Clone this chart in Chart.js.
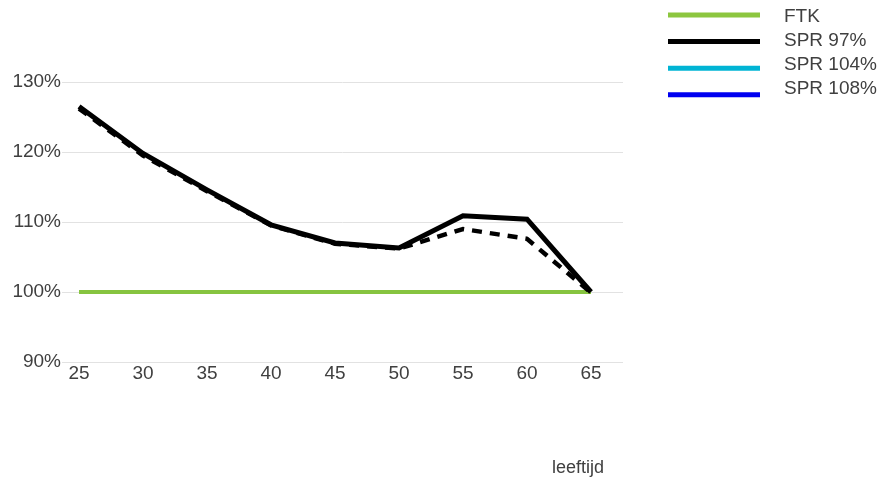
<!DOCTYPE html>
<html><head><meta charset="utf-8">
<script src="https://cdn.jsdelivr.net/npm/chart.js@4/dist/chart.umd.min.js"></script>
<style>html,body{margin:0;padding:0;background:#fff}#wrap{width:886px;height:483px;position:relative}</style>
</head><body><div id="wrap"><canvas id="c" width="886" height="483"></canvas></div>
<script>
const ages = [25, 30, 35, 40, 45, 50, 55, 60, 65];
const ftk = [100, 100, 100, 100, 100, 100, 100, 100, 100];
const spr97 = [126.5, 119.8, 114.6, 109.6, 107.0, 106.3, 110.9, 110.4, 100];
const spr97Dashed = [126.2, 119.5, 114.4, 109.5, 106.9, 106.2, 109.0, 107.6, 99.9];
const spr104 = [];
const spr108 = [];
const yTicks = [90, 100, 110, 120, 130];
const seriesNames = ['FTK', 'SPR 97%', 'SPR 104%', 'SPR 108%'];
const xTitle = 'leeftijd';

const FONT = 'Liberation Sans, Arial, sans-serif';
const TXT = '#404040';
const pts = arr => arr.map((v, i) => ({x: ages[i], y: v}));

const fixedLegend = {
  id: 'fixedLegend',
  afterDraw(chart) {
    const ctx = chart.ctx;
    const items = chart.data.datasets.filter(d => d.inLegend);
    ctx.save();
    items.forEach((d, i) => {
      const ly = 15 + i * 26.6;
      ctx.strokeStyle = d.legendColor || d.borderColor;
      ctx.lineWidth = 5;
      ctx.lineCap = 'butt';
      ctx.beginPath();
      ctx.moveTo(668, ly);
      ctx.lineTo(760, ly);
      ctx.stroke();
      ctx.fillStyle = TXT;
      ctx.font = '19px ' + FONT;
      ctx.textBaseline = 'middle';
      ctx.textAlign = 'left';
      ctx.fillText(d.label, 784, 16.5 + i * 24.2);
    });
    // x-axis title, right-aligned a little inside the plot's right edge
    ctx.font = '18px ' + FONT;
    ctx.textAlign = 'right';
    ctx.textBaseline = 'middle';
    ctx.fillStyle = TXT;
    ctx.fillText(xTitle, chart.chartArea.right - 19, 468);
    ctx.restore();
  }
};

new Chart(document.getElementById('c'), {
  type: 'line',
  data: {
    datasets: [
      {label: seriesNames[0], data: pts(ftk), borderColor: '#86c440', legendColor: '#8cc63f', borderWidth: 4, pointRadius: 0, inLegend: true, order: 3},
      {label: seriesNames[1], data: pts(spr97), borderColor: '#000000', borderWidth: 5, pointRadius: 0, inLegend: true, order: 1},
      {label: seriesNames[2], data: pts(spr104), borderColor: '#00b4d4', borderWidth: 4, pointRadius: 0, inLegend: true},
      {label: seriesNames[3], data: pts(spr108), borderColor: '#0000f0', borderWidth: 4, pointRadius: 0, inLegend: true},
      {label: 'SPR 97% (variant)', data: pts(spr97Dashed), borderColor: '#000000', borderWidth: 4.5, borderDash: [10, 8], pointRadius: 0, inLegend: false, order: 2}
    ]
  },
  options: {
    responsive: false,
    animation: false,
    devicePixelRatio: 1,
    layout: {padding: {left: 0, top: 82, right: 263, bottom: 0}},
    plugins: {legend: {display: false}, tooltip: {enabled: false}},
    scales: {
      x: {
        type: 'linear', min: 23.67, max: 67.5,
        afterBuildTicks: s => { s.ticks = ages.map(v => ({value: v})); },
        afterFit: s => { s.height = 121; },
        grid: {display: false, drawTicks: false},
        border: {display: false},
        ticks: {font: {family: FONT, size: 19}, color: TXT, padding: 0, maxRotation: 0, autoSkip: false},
        title: {display: false, text: xTitle}
      },
      y: {
        min: 90, max: 130,
        afterBuildTicks: s => { s.ticks = yTicks.map(v => ({value: v})); },
        afterFit: s => { s.width = 62; },
        grid: {color: '#e2e2e2', lineWidth: 1, drawTicks: false},
        border: {display: false},
        ticks: {font: {family: FONT, size: 19}, color: TXT, padding: 1, callback: v => v + '%'}
      }
    }
  },
  plugins: [fixedLegend]
});
</script></body></html>
